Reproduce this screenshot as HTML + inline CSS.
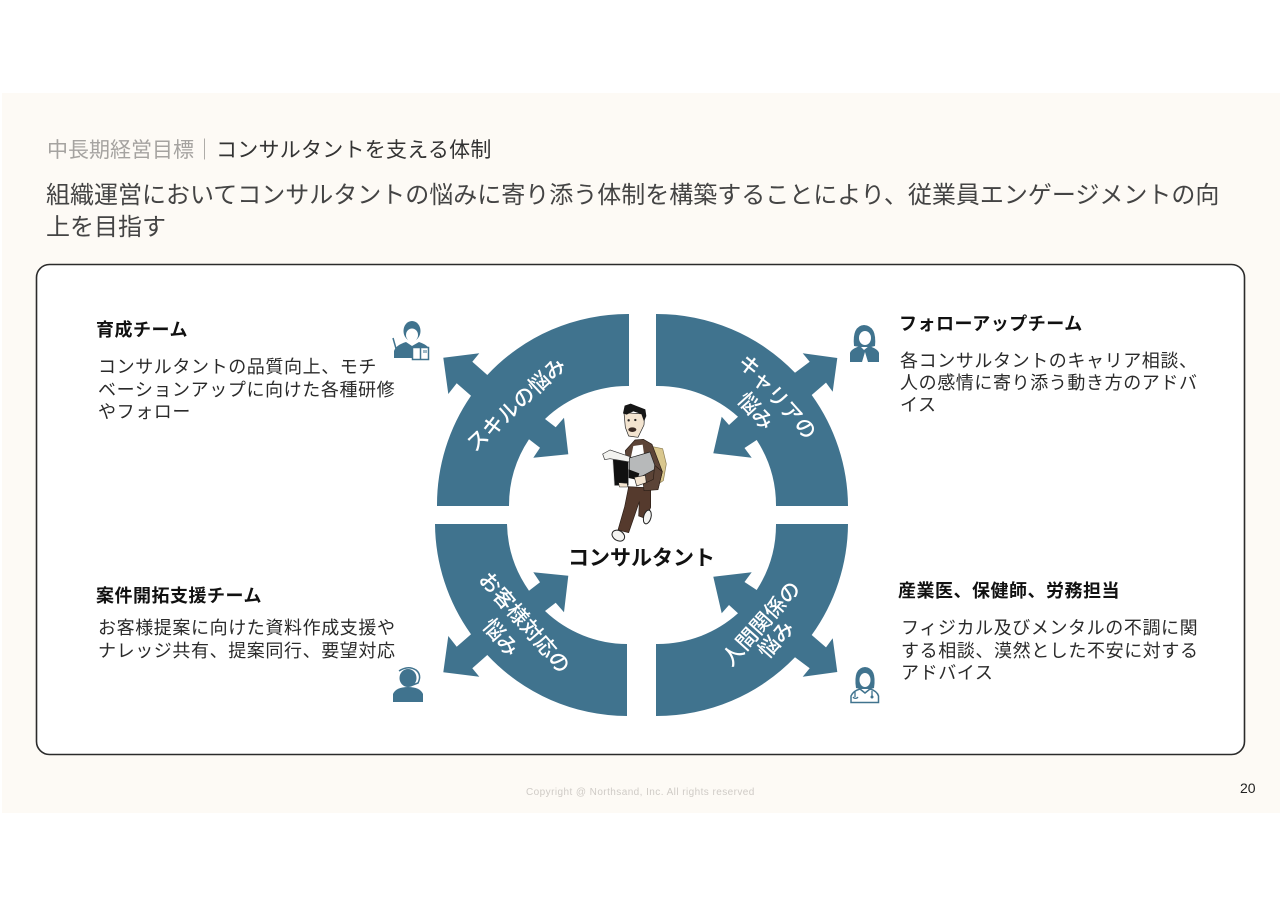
<!DOCTYPE html>
<html lang="ja"><head><meta charset="utf-8"><style>
html,body{margin:0;padding:0;background:#fff}
#p{position:relative;width:1280px;height:905px;overflow:hidden;background:#fff;font-family:"Liberation Sans","Noto Sans CJK JP",sans-serif}
#bg{position:absolute;left:2px;top:93px;width:1278px;height:720px;background:#fdfaf5}
.t{position:absolute;white-space:nowrap;color:#222}
.h{font-size:18px;font-weight:700;color:#111;letter-spacing:.5px;line-height:24px}
.b{font-size:18px;letter-spacing:.6px;line-height:22.5px;color:#2a2a2a}
svg{position:absolute;left:0;top:0}
#box{position:absolute;left:0;top:0}
</style></head><body><div id="p">
<div id="bg"></div>
<svg id="box" width="1280" height="905" viewBox="0 0 1280 905"><rect x="36.500" y="264.500" width="1208" height="490" rx="13" ry="13" fill="#fff" stroke="#2b2b2b" stroke-width="1.600"/></svg>

<div class="t" style="left:47px;top:137px;font-size:21px;line-height:28px;color:#a5a3a0">中長期経営目標｜<span style="color:#333;margin-left:1px;letter-spacing:.25px">コンサルタントを支える体制</span></div>
<div class="t" style="left:46px;top:179.500px;font-size:24px;line-height:32px;color:#444">組織運営においてコンサルタントの悩みに寄り添う体制を構築することにより、従業員エンゲージメントの向<br>上を目指す</div>

<div class="t h" style="left:96px;top:318px">育成チーム</div>
<div class="t b" style="left:98px;top:356px">コンサルタントの品質向上、モチ<br>ベーションアップに向けた各種研修<br>やフォロー</div>
<div class="t h" style="left:899px;top:312px">フォローアップチーム</div>
<div class="t b" style="left:900px;top:350px;line-height:22px">各コンサルタントのキャリア相談、<br>人の感情に寄り添う動き方のアドバ<br>イス</div>
<div class="t h" style="left:96px;top:584px">案件開拓支援チーム</div>
<div class="t b" style="left:98px;top:617px">お客様提案に向けた資料作成支援や<br>ナレッジ共有、提案同行、要望対応</div>
<div class="t h" style="left:898px;top:579px">産業医、保健師、労務担当</div>
<div class="t b" style="left:901px;top:617px">フィジカル及びメンタルの不調に関<br>する相談、漠然とした不安に対する<br>アドバイス</div>
<div class="t" style="left:568px;top:545px;font-size:21px;font-weight:700;line-height:28px;color:#111">コンサルタント</div>
<div class="t" style="left:526px;top:786px;font-size:10px;line-height:14px;letter-spacing:.43px;color:#cfcbc6">Copyright @ Northsand, Inc. All rights reserved</div>
<div class="t" style="left:1240px;top:780px;font-size:14px;line-height:16px;color:#222">20</div>

<svg width="1280" height="905" viewBox="0 0 1280 905">
<defs>
<path id="tr" d="M656 314 V386 A120 120 0 0 1 738 416.7 L729 425 L721.7 416.7 L713.3 453.3 L751.7 457.7 L744.5 448 L756.7 440 A120 120 0 0 1 776 506 H848 A192 192 0 0 0 811.7 395 L826 382.600 L832.7 391.7 L837.3 358 L802.7 353.3 L809.7 361.7 L795 372.7 A192 192 0 0 0 656 314 Z"/>
</defs>
<g fill="#40738e">
<path d="M629 314 V386 A120 120 0 0 0 545 419 L555.7 427.3 L564 417.7 L568.3 454.3 L533.3 457.7 L540 447.7 L529 439.3 A120 120 0 0 0 509 506 H437 A192 192 0 0 1 471 395.7 L456.7 383.3 L448.3 394 L443.3 357.7 L479.3 353.3 L472.3 361.7 L487.3 375 A192 192 0 0 1 629 314 Z"/>
<use href="#tr"/>
<use href="#tr" transform="translate(0 1030) scale(1 -1)"/>
<path d="M627 716 V644 A120 120 0 0 1 545 611 L555.7 602.7 L564 612.3 L568.3 575.7 L533.3 572.3 L540 582.3 L529 590.7 A120 120 0 0 1 507 524 H435 A192 192 0 0 0 471 634.3 L456.7 646.7 L448.3 636 L443.3 672.3 L479.3 676.7 L472.3 668.3 L487.3 655 A192 192 0 0 0 627 716 Z"/>
</g>
<g fill="#fff" font-size="21" font-weight="500" text-anchor="middle" dominant-baseline="central">
<text transform="translate(516.7 405) rotate(-43)">スキルの悩み</text>
<text transform="translate(776.7 397.5) rotate(48)">キャリアの</text>
<text transform="translate(755 411.7) rotate(48)">悩み</text>
<text transform="translate(524 623) rotate(49)">お客様対応の</text>
<text transform="translate(500 638) rotate(49)">悩み</text>
<text transform="translate(761.7 624) rotate(-48)">人間関係の</text>
<text transform="translate(776.7 640) rotate(-48)">悩み</text>
</g>

<!-- person -->
<g transform="translate(580 390) scale(.3333)" stroke-linejoin="round">
<path d="M218 170 L248 176 L259 222 L250 272 L232 284 Z" fill="#d9c78e" stroke="#8b7c52" stroke-width="2"/>
<path d="M136 182 L165 150 L190 148 L216 163 L247 245 L234 297 L192 302 L145 296 Z" fill="#5c4437" stroke="#2a1d16" stroke-width="2"/>
<path d="M160 168 L188 164 L194 205 L150 215 Z" fill="#fff"/>
<path d="M145 258 L190 258 L195 292 L145 290 Z" fill="#fff"/>
<path d="M146 290 L212 294 L212 352 L198 386 L176 378 L178 335 L146 428 L114 420 L134 350 Z" fill="#553a2d" stroke="#2a1d16" stroke-width="2"/>
<ellipse cx="115" cy="437" rx="20" ry="15" transform="rotate(30 115 437)" fill="#f4f4f2" stroke="#222" stroke-width="3"/>
<ellipse cx="202" cy="381" rx="11" ry="21" transform="rotate(15 202 381)" fill="#f4f4f2" stroke="#222" stroke-width="3"/>
<path d="M132 68 L194 72 L192 105 L174 142 L146 138 L136 112 Z" fill="#f3e4d0" stroke="#222" stroke-width="2"/>
<path d="M129 70 L134 47 L152 41 L196 58 L199 78 L192 94 L184 72 L160 64 L140 74 Z" fill="#161616"/>
<ellipse cx="157" cy="119" rx="12" ry="7" fill="#3a2a24"/>
<circle cx="146" cy="91" r="3.500" fill="#222"/><circle cx="166" cy="90" r="3.500" fill="#222"/>
<path d="M98 208 L146 212 L146 287 L103 287 Z" fill="#111" stroke="#ddd" stroke-width="2"/>
<path d="M68 192 L90 180 L150 200 L148 216 L90 206 L74 209 Z" fill="#f3f3f0" stroke="#333" stroke-width="2"/>
<path d="M148 204 L210 186 L228 236 L176 264 L148 240 Z" fill="#b7b9ba" stroke="#222" stroke-width="2"/>
<path d="M146 238 L178 250 L172 270 L146 264 Z" fill="#111"/>
<path d="M116 278 L142 280 L142 291 L118 291 Z" fill="#f3e4d0" stroke="#222" stroke-width="1.500"/>
<path d="M163 262 L196 256 L199 278 L170 288 Z" fill="#f3e4d0" stroke="#222" stroke-width="2"/>
<path d="M224 226 L247 245 L234 299 L192 302 L190 282 L220 268 Z" fill="#5c4437" stroke="#2a1d16" stroke-width="2"/>
</g>

<!-- icons -->
<g fill="#40738e">
<!-- icon 1 -->
<path d="M394 358 V351 Q396 345 406 342 L412 346 L419 342 Q425 344 428 347 H412 V358 Z"/>
<ellipse cx="412" cy="331" rx="8.500" ry="10"/>
<ellipse cx="412" cy="335" rx="6" ry="6.500" fill="#fff"/>
<path d="M393 338 L397 352" stroke="#40738e" stroke-width="1.500"/>
<circle cx="396.500" cy="352.500" r="2"/>
<path d="M412.500 347.500 H428.500 V359.500 H412.500 Z M420.500 348 V359" fill="#fff" stroke="#40738e" stroke-width="1.500"/>
<rect x="423" y="350" width="4" height="3" fill="#9db8c6"/>
<!-- icon 2 -->
<path d="M854 346 Q852 326 864 325 Q877 326 875 346 L871 347 L860 347 Z"/>
<ellipse cx="865" cy="338" rx="6" ry="7" fill="#fff"/>
<path d="M850 362 V353 Q851 349 860 346 L864 350 L869 346 Q878 349 879 353 V362 H868 L865 352 L862 362 Z"/>
<!-- icon 3 -->
<ellipse cx="408" cy="678" rx="8.500" ry="9"/>
<path d="M393 702 V694 Q396 687 408 687 Q420 687 423 694 V702 Z"/>
<path d="M399 671 Q408 665 416 670 Q422 675 418 683 L410 686" fill="none" stroke="#40738e" stroke-width="1.500"/>
<!-- icon 4 -->
<path d="M856 688 Q853 668 865 667 Q877 668 874 688 L871 689 L860 689 Z"/>
<ellipse cx="865" cy="680" rx="5.500" ry="7" fill="#fdfdfd"/>
<path d="M851 702.500 V696 Q853 691 860 689 L865 693 L870 689 Q877 691 878.500 696 V702.500 Z" fill="#fff" stroke="#40738e" stroke-width="1.500"/>
<path d="M855 692 V697 M872 691 V696" stroke="#40738e" stroke-width="1.300" fill="none"/>
<circle cx="872" cy="697" r="1.500"/>
<path d="M853 697 a3 3 0 0 0 5 0" fill="none" stroke="#40738e" stroke-width="1.200"/>
</g>
</svg>
</div></body></html>
